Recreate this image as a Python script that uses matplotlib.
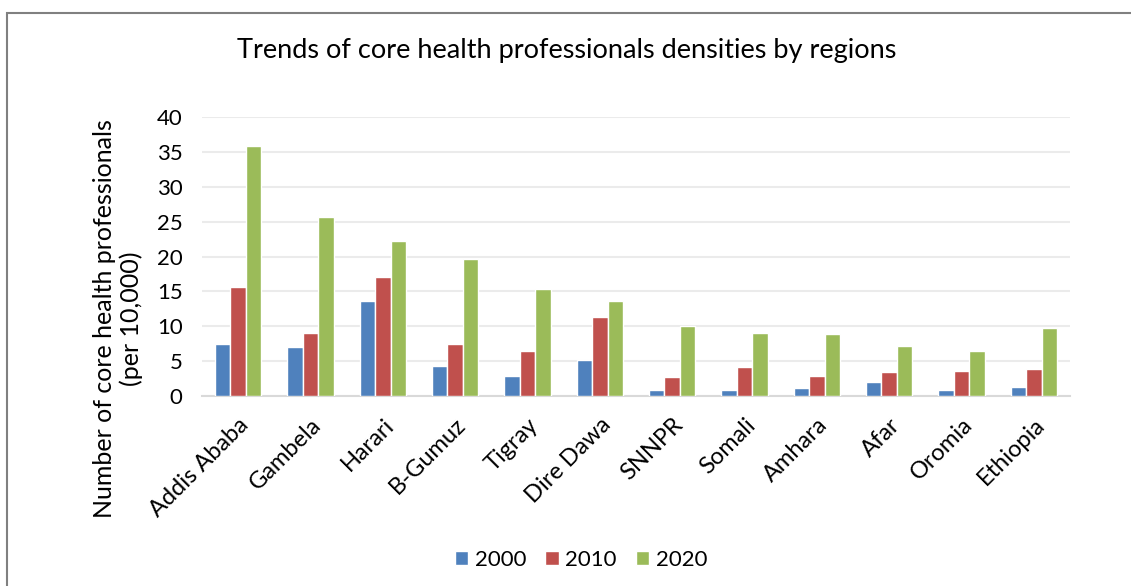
import matplotlib
matplotlib.use('Agg')
import matplotlib.pyplot as plt
from matplotlib.patches import Rectangle
import numpy as np

plt.rcParams['font.family'] = ['Lato', 'DejaVu Sans']

regions = ['Addis Ababa', 'Gambela', 'Harari', 'B-Gumuz', 'Tigray', 'Dire Dawa',
           'SNNPR', 'Somali', 'Amhara', 'Afar', 'Oromia', 'Ethiopia']
years = ['2000', '2010', '2020']
density_2000 = [7.4, 7.0, 13.65, 4.3, 2.8, 5.1, 0.9, 0.9, 1.2, 2.0, 0.8, 1.35]
density_2010 = [15.7, 9.0, 17.1, 7.4, 6.4, 11.4, 2.7, 4.1, 2.8, 3.4, 3.65, 3.9]
density_2020 = [35.8, 25.6, 22.2, 19.6, 15.4, 13.6, 10.1, 9.0, 8.9, 7.1, 6.5, 9.8]
colors = ['#4F81BD', '#C0504D', '#9BBB59']

fig = plt.figure(figsize=(11.31, 5.86), dpi=100)
ax = fig.add_axes([0.1786, 0.3242, 0.7675, 0.4761])

x = np.arange(len(regions))
slot = 0.214
for i, (vals, col) in enumerate(zip([density_2000, density_2010, density_2020], colors)):
    ax.bar(x + (i - 1) * slot, vals, width=slot, color=col, edgecolor='white',
           linewidth=1.0, label=years[i], zorder=3)

ax.set_xlim(-0.5, len(regions) - 0.5)
ax.set_ylim(0, 40)
ax.set_yticks(range(0, 41, 5))
ax.yaxis.grid(True, color='#EBEBEB', linewidth=1.5, zorder=0)
ax.tick_params(axis='y', length=0, labelsize=16, pad=14, colors='black')
ax.tick_params(axis='x', length=0, labelsize=17, pad=13)
ax.set_xticks(x)
ax.set_xticklabels(regions, rotation=45, ha='right', rotation_mode='anchor')
for s in ['top', 'right', 'left']:
    ax.spines[s].set_visible(False)
ax.spines['bottom'].set_color('#D9D9D9')
ax.spines['bottom'].set_linewidth(1.5)

fig.text(118 / 1131, 1 - 319 / 586,
         'Number of core health professionals\n(per 10,000)',
         rotation=90, ha='center', va='center', fontsize=18, linespacing=1.15,
         multialignment='center')
fig.text(567 / 1131, 0.913, 'Trends of core health professionals densities by regions',
         ha='center', va='center', fontsize=19.5)

fig.legend(loc='center', bbox_to_anchor=(581 / 1131, 0.045), ncol=3, frameon=False,
           fontsize=16, handlelength=0.6, handleheight=0.6, handletextpad=0.3,
           columnspacing=0.85)

# outer chart border
fig.patches.append(Rectangle((7 / 1131, -0.1), 1.2, 1 - 13 / 586 + 0.1,
                             transform=fig.transFigure, fill=False,
                             edgecolor='#808080', linewidth=1.5))

fig.savefig('out.png', dpi=100)
